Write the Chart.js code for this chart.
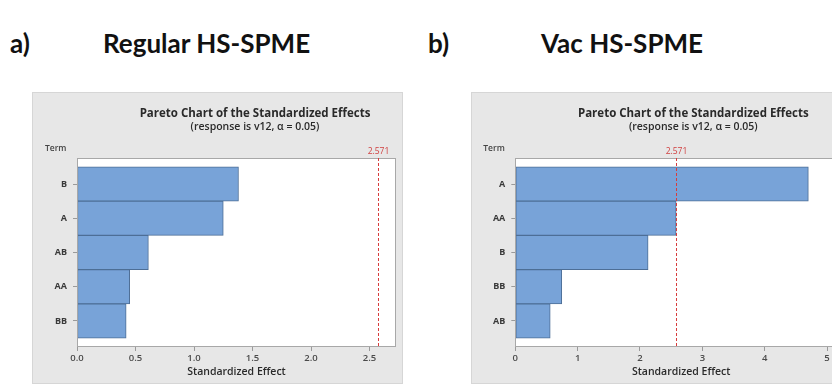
<!DOCTYPE html>
<html><head><meta charset="utf-8">
<script src="https://cdn.jsdelivr.net/npm/chart.js@4.4.1/dist/chart.umd.min.js"></script>
<style>
html,body{margin:0;padding:0;width:832px;height:384px;overflow:hidden;background:#fff;position:relative;}
.hdr{position:absolute;font-family:Lato,"Open Sans",sans-serif;font-weight:700;font-size:26px;line-height:26px;color:#111;white-space:nowrap;}
.box{position:absolute;top:92px;height:292px;background:#e7e7e7;box-shadow:inset 0 0 0 1px #d6d6d6;}
.box canvas{display:block;}
</style></head>
<body>
<div class="hdr" style="left:10px;top:30px">a)</div>
<div class="hdr" style="left:103px;top:30px">Regular HS-SPME</div>
<div class="hdr" style="left:428px;top:30px">b)</div>
<div class="hdr" style="left:541px;top:30px">Vac HS-SPME</div>
<div class="box" style="left:32px;width:371px"><canvas id="cA" width="371" height="292"></canvas></div>
<div class="box" style="left:471px;width:383px"><canvas id="cB" width="383" height="292"></canvas></div>
<script>
// ---- data ----
const termsA = ['B', 'A', 'AB', 'AA', 'BB'];
const effectsA = [1.38, 1.25, 0.61, 0.45, 0.42];
const xTicksA = [0, 0.5, 1.0, 1.5, 2.0, 2.5];

const termsB = ['A', 'AA', 'B', 'BB', 'AB'];
const effectsB = [4.70, 2.58, 2.13, 0.745, 0.56];
const xTicksB = [0, 1, 2, 3, 4, 5];

const criticalValue = 2.571;
const chartTitle = 'Pareto Chart of the Standardized Effects';
const chartSubtitle = '(response is v12, \u03B1 = 0.05)';
const axisTitle = 'Standardized Effect';

// ---- plugin for plot frame, reference line and Minitab-style labels ----
const decor = {
  id: 'decor',
  beforeDatasetsDraw(chart) {
    const {ctx, chartArea: a} = chart;
    ctx.save();
    ctx.fillStyle = '#ffffff';
    ctx.fillRect(a.left, a.top, a.right - a.left, a.bottom - a.top);
    ctx.restore();
  },
  afterDatasetsDraw(chart, args, o) {
    const {ctx, chartArea: a, scales: {x}} = chart;
    ctx.save();
    ctx.strokeStyle = '#a8a8a8'; ctx.lineWidth = 1;
    ctx.strokeRect(Math.round(a.left) + 0.5, Math.round(a.top) + 0.5,
                   Math.round(a.right - a.left) - 1, Math.round(a.bottom - a.top) - 1);
    const px = Math.round(x.getPixelForValue(o.critical)) + 0.5;
    ctx.strokeStyle = '#d83c3c'; ctx.setLineDash([3, 2]);
    ctx.beginPath(); ctx.moveTo(px, a.top); ctx.lineTo(px, a.bottom); ctx.stroke();
    ctx.setLineDash([]);
    ctx.fillStyle = '#d04040'; ctx.font = '8.5px "Open Sans"';
    ctx.textAlign = 'center'; ctx.textBaseline = 'alphabetic';
    ctx.fillText(o.critical.toFixed(3), px, a.top - 4);
    ctx.fillStyle = '#444'; ctx.font = '600 8.5px "Open Sans"'; ctx.textAlign = 'left';
    ctx.fillText('Term', a.left - 32, a.top - 7);
    ctx.fillStyle = '#2a2a2a'; ctx.textAlign = 'center';
    ctx.font = 'bold 11.5px "Open Sans"';
    ctx.fillText(o.title, a.left + 178, a.top - 41);
    ctx.font = '600 10.5px "Open Sans"';
    ctx.fillText(o.subtitle, a.left + 178, a.top - 28.5);
    ctx.restore();
  }
};

function build(id, terms, effects, xTicks, xMax, yWidth, fmt) {
  const points = terms.map((t, i) => ({x: effects[i], y: i + 1}));
  new Chart(document.getElementById(id), {
    type: 'bar',
    data: {datasets: [{
      data: points,
      backgroundColor: '#78a3d8',
      borderColor: '#4d6e96',
      borderWidth: 1,
      borderSkipped: false,
      barPercentage: 1,
      categoryPercentage: 1
    }]},
    options: {
      indexAxis: 'y',
      responsive: false,
      animation: false,
      events: [],
      layout: {padding: {top: 66, right: 7, left: 0, bottom: 0}},
      plugins: {
        legend: {display: false},
        tooltip: {enabled: false},
        decor: {critical: criticalValue, title: chartTitle, subtitle: chartSubtitle}
      },
      scales: {
        x: {
          type: 'linear', min: 0, max: xMax, offset: false,
          afterBuildTicks: s => { s.ticks = xTicks.map(v => ({value: v})); },
          afterFit: s => { s.height = 37; },
          grid: {drawOnChartArea: false, tickLength: 4, color: '#9a9a9a', offset: false},
          border: {display: false},
          ticks: {padding: 2, autoSkip: false, maxRotation: 0, color: '#4a4a4a',
                  font: {family: 'Open Sans', size: 9.5, weight: '600'}, callback: v => fmt(v)},
          title: {display: true, text: axisTitle, color: '#2a2a2a',
                  font: {family: 'Open Sans', size: 10.5, weight: '600'}, padding: {top: 0, bottom: 6}}
        },
        y: {
          type: 'linear', reverse: true, min: 0.24, max: 5.76, offset: false,
          afterBuildTicks: s => { s.ticks = terms.map((t, i) => ({value: i + 1})); },
          afterFit: s => { s.width = yWidth; },
          grid: {drawOnChartArea: false, tickLength: 4, color: '#9a9a9a', offset: false},
          border: {display: false},
          ticks: {padding: 6, autoSkip: false, color: '#3a3a3a',
                  font: {family: 'Open Sans', size: 9, weight: 'bold'}, callback: v => terms[v - 1]}
        }
      }
    },
    plugins: [decor]
  });
}

build('cA', termsA, effectsA, xTicksA, 2.726, 45, v => v.toFixed(1));
build('cB', termsB, effectsB, xTicksB, 5.32, 44.3, v => String(v));
</script>
</body></html>
